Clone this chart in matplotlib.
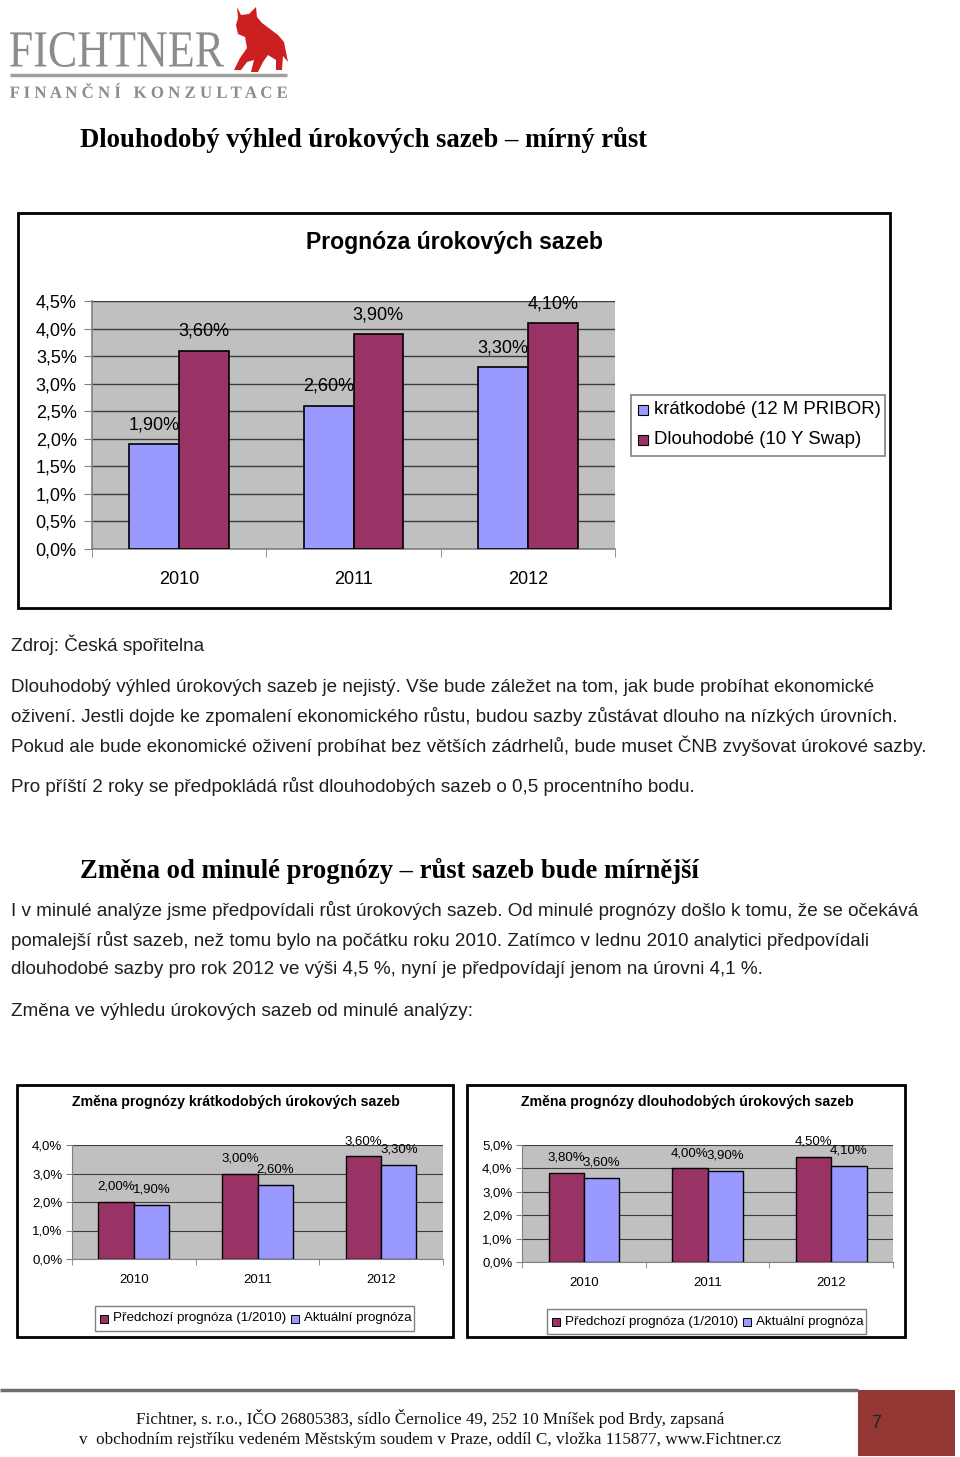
import matplotlib
matplotlib.use("Agg")
import matplotlib.pyplot as plt
import matplotlib.patches as mpatches
from matplotlib.textpath import TextPath
from matplotlib.font_manager import FontProperties
from matplotlib.transforms import Affine2D
from matplotlib.ticker import FuncFormatter, MultipleLocator, FixedLocator

# ---------------- data ----------------
years = ["2010", "2011", "2012"]
series_main = ["krátkodobé (12 M PRIBOR)", "Dlouhodobé (10 Y Swap)"]
short_rates = [1.90, 2.60, 3.30]
long_rates = [3.60, 3.90, 4.10]

series_change = ["Předchozí prognóza (1/2010)", "Aktuální prognóza"]
prev_short = [2.00, 3.00, 3.60]
curr_short = [1.90, 2.60, 3.30]
prev_long = [3.80, 4.00, 4.50]
curr_long = [3.60, 3.90, 4.10]

main_title = "Prognóza úrokových sazeb"
small_title_left = "Změna prognózy krátkodobých úrokových sazeb"
small_title_right = "Změna prognózy dlouhodobých úrokových sazeb"

heading1 = "Dlouhodobý výhled úrokových sazeb – mírný růst"
heading2 = "Změna od minulé prognózy – růst sazeb bude mírnější"
source_line = "Zdroj: Česká spořitelna"
para1 = [
    "Dlouhodobý výhled úrokových sazeb je nejistý. Vše bude záležet na tom, jak bude probíhat ekonomické",
    "oživení. Jestli dojde ke zpomalení ekonomického růstu, budou sazby zůstávat dlouho na nízkých úrovních.",
    "Pokud ale bude ekonomické oživení probíhat bez větších zádrhelů, bude muset ČNB zvyšovat úrokové sazby.",
]
para2 = "Pro příští 2 roky se předpokládá růst dlouhodobých sazeb o 0,5 procentního bodu."
para3 = [
    "I v minulé analýze jsme předpovídali růst úrokových sazeb. Od minulé prognózy došlo k tomu, že se očekává",
    "pomalejší růst sazeb, než tomu bylo na počátku roku 2010. Zatímco v lednu 2010 analytici předpovídali",
    "dlouhodobé sazby pro rok 2012 ve výši 4,5 %, nyní je předpovídají jenom na úrovni 4,1 %.",
]
para4 = "Změna ve výhledu úrokových sazeb od minulé analýzy:"
footer = [
    "Fichtner, s. r.o., IČO 26805383, sídlo Černolice 49, 252 10 Mníšek pod Brdy, zapsaná",
    "v  obchodním rejstříku vedeném Městským soudem v Praze, oddíl C, vložka 115877, www.Fichtner.cz",
]
page_no = "7"

# ---------------- styling ----------------
BLUE = "#9999FF"
RED = "#993366"
PLOT_BG = "#C0C0C0"
SANS = ["Liberation Sans", "DejaVu Sans"]
SERIF = ["Liberation Serif", "DejaVu Serif"]
plt.rcParams["font.family"] = SANS

W, H = 960, 1457
fig = plt.figure(figsize=(W / 100, H / 100), dpi=100)
fig.patch.set_facecolor("white")

# background axes in pixel coordinates
bg = fig.add_axes([0, 0, 1, 1], zorder=0)
bg.set_xlim(0, W)
bg.set_ylim(H, 0)
bg.axis("off")


def px_axes(x0, y0, x1, y1):
    ax = fig.add_axes([x0 / W, 1 - y1 / H, (x1 - x0) / W, (y1 - y0) / H], zorder=2)
    return ax


def fit_textpath(text, x0, y0, x1, y1, color, family, weight="normal"):
    """draw text as a path stretched into a pixel box (x0,y0)-(x1,y1), y downwards"""
    tp = TextPath((0, 0), text, size=10, prop=FontProperties(family=family, weight=weight))
    ext = tp.get_extents()
    sx = (x1 - x0) / ext.width
    sy = (y1 - y0) / ext.height
    tr = Affine2D().translate(-ext.x0, -ext.y0).scale(sx, -sy).translate(x0, y1)
    path = tr.transform_path(tp)
    bg.add_patch(mpatches.PathPatch(path, facecolor=color, edgecolor="none"))


pct1 = FuncFormatter(lambda v, p: f"{v:.1f}%".replace(".", ","))


def lab(v):
    return f"{v:.2f}%".replace(".", ",")


# ---------------- logo ----------------
fit_textpath("FICHTNER", 10, 32, 224, 67, "#8c8c8c", SERIF)
bg.plot([10, 287], [75, 75], color="#a0a0a0", lw=2.5, solid_capstyle="butt")
fit_textpath("F I N A N Č N Í   K O N Z U L T A C E", 10, 83, 287, 98, "#8c8c8c", SERIF, "bold")
bull = [(237, 7), (241, 15), (249, 14), (256, 7), (257, 17), (262, 23), (270, 29), (278, 35),
        (284, 42), (286, 52), (288, 62), (283, 56), (282, 70), (276, 70), (276, 60), (268, 55),
        (263, 62), (258, 72), (251, 72), (254, 60), (247, 62), (241, 70), (234, 70), (240, 58),
        (247, 48), (245, 37), (238, 34), (236, 25), (238, 18)]
bg.add_patch(mpatches.Polygon(bull, closed=True, facecolor="#cc1f1f", edgecolor="none"))

# ---------------- headings and text ----------------
bg.text(80, 140, heading1, fontsize=19.2, fontweight="bold", family=SERIF, va="center", ha="left", color="black")
bg.text(80, 871, heading2, fontsize=19.2, fontweight="bold", family=SERIF, va="center", ha="left", color="black")

BODY = 13.6
TXT = "#1e1e1e"
bg.text(11, 645, source_line, fontsize=BODY, va="center", color=TXT)
for i, line in enumerate(para1):
    bg.text(11, 687 + i * 29.5, line, fontsize=BODY, va="center", color=TXT)
bg.text(11, 787, para2, fontsize=BODY, va="center", color=TXT)
for i, line in enumerate(para3):
    bg.text(11, 911 + i * 29.5, line, fontsize=BODY, va="center", color=TXT)
bg.text(11, 1011, para4, fontsize=BODY, va="center", color=TXT)

# ---------------- main chart ----------------
bg.add_patch(mpatches.Rectangle((18, 213), 872, 395, facecolor="white", edgecolor="black", lw=2))
bg.text(455, 243, main_title, fontsize=16.6, fontweight="bold", ha="center", va="center")

ax = px_axes(92, 301, 615, 549)
w = 1 / 3.5
xs = list(range(len(years)))
ax.set_facecolor(PLOT_BG)
ax.bar([x - w / 2 for x in xs], short_rates, width=w, color=BLUE, edgecolor="black", lw=1.2, zorder=3)
ax.bar([x + w / 2 for x in xs], long_rates, width=w, color=RED, edgecolor="black", lw=1.2, zorder=3)
for x, v in zip(xs, short_rates):
    ax.annotate(lab(v), (x - w / 2, v), xytext=(0, 14), textcoords="offset points",
                ha="center", va="center", fontsize=13)
for x, v in zip(xs, long_rates):
    ax.annotate(lab(v), (x + w / 2, v), xytext=(0, 14), textcoords="offset points",
                ha="center", va="center", fontsize=13)
ax.set_xlim(-0.5, 2.5)
ax.set_ylim(0, 4.5)
ax.yaxis.set_major_locator(MultipleLocator(0.5))
ax.yaxis.set_major_formatter(pct1)
ax.grid(axis="y", color="#3c3c3c", lw=1, zorder=1)
ax.set_axisbelow(True)
ax.set_xticks(xs)
ax.set_xticklabels(years)
ax.xaxis.set_minor_locator(FixedLocator([-0.5, 0.5, 1.5, 2.5]))
ax.tick_params(axis="x", which="major", length=0, labelsize=13, pad=15.5)
ax.tick_params(axis="x", which="minor", length=6, color="#808080")
ax.tick_params(axis="y", length=6, color="#808080", labelsize=13, pad=5)
for s in ["top", "right"]:
    ax.spines[s].set_visible(False)
for s in ["left", "bottom"]:
    ax.spines[s].set_color("#808080")
    ax.spines[s].set_linewidth(1.2)

# legend of main chart
bg.add_patch(mpatches.Rectangle((631, 395), 254, 61, facecolor="white", edgecolor="#808080", lw=1.2))
for i, (name, col) in enumerate(zip(series_main, [BLUE, RED])):
    yy = 410 + i * 30
    bg.add_patch(mpatches.Rectangle((638, yy - 5), 10, 10, facecolor=col, edgecolor="black", lw=0.8))
    bg.text(654, yy, name, fontsize=13.4, va="center", ha="left")


# ---------------- small charts ----------------
def small_chart(box, plot, title, title_x, prev, curr, ymax, legend_box):
    bx0, by0, bx1, by1 = box
    bg.add_patch(mpatches.Rectangle((bx0, by0), bx1 - bx0, by1 - by0, facecolor="white",
                                    edgecolor="black", lw=2))
    bg.text(title_x, 1102, title, fontsize=10.2, fontweight="bold", ha="center", va="center")
    a = px_axes(*plot)
    a.set_facecolor(PLOT_BG)
    a.bar([x - w / 2 for x in xs], prev, width=w, color=RED, edgecolor="black", lw=1, zorder=3)
    a.bar([x + w / 2 for x in xs], curr, width=w, color=BLUE, edgecolor="black", lw=1, zorder=3)
    for x, v in zip(xs, prev):
        a.annotate(lab(v), (x - w / 2, v), xytext=(0, 11), textcoords="offset points",
                   ha="center", va="center", fontsize=9.5)
    for x, v in zip(xs, curr):
        a.annotate(lab(v), (x + w / 2, v), xytext=(0, 11), textcoords="offset points",
                   ha="center", va="center", fontsize=9.5)
    a.set_xlim(-0.5, 2.5)
    a.set_ylim(0, ymax)
    a.yaxis.set_major_locator(MultipleLocator(1))
    a.yaxis.set_major_formatter(pct1)
    a.grid(axis="y", color="#3c3c3c", lw=0.8, zorder=1)
    a.set_axisbelow(True)
    a.set_xticks(xs)
    a.set_xticklabels(years)
    a.xaxis.set_minor_locator(FixedLocator([-0.5, 0.5, 1.5, 2.5]))
    a.tick_params(axis="x", which="major", length=0, labelsize=9.5, pad=11)
    a.tick_params(axis="x", which="minor", length=4, color="#808080")
    a.tick_params(axis="y", length=4, color="#808080", labelsize=9.5, pad=3)
    for s in ["top", "right"]:
        a.spines[s].set_visible(False)
    for s in ["left", "bottom"]:
        a.spines[s].set_color("#808080")
    lx0, ly0, lx1, ly1 = legend_box
    bg.add_patch(mpatches.Rectangle((lx0, ly0), lx1 - lx0, ly1 - ly0, facecolor="white",
                                    edgecolor="#808080", lw=1))
    yy = (ly0 + ly1) / 2
    offs = [5, 196]
    for off, name, col in zip(offs, series_change, [RED, BLUE]):
        bg.add_patch(mpatches.Rectangle((lx0 + off, yy - 4), 8, 8, facecolor=col, edgecolor="black", lw=0.7))
        bg.text(lx0 + off + 13, yy, name, fontsize=9.6, va="center", ha="left")


small_chart((17, 1085, 453, 1337), (72, 1145, 443, 1259), small_title_left, 236,
            prev_short, curr_short, 4, (95, 1306, 414, 1331))
small_chart((467, 1085, 905, 1337), (522, 1145, 893, 1262), small_title_right, 687,
            prev_long, curr_long, 5, (547, 1309, 866, 1334))

# ---------------- footer ----------------
bg.plot([0, 858], [1390, 1390], color="#6e6e6e", lw=2.5, solid_capstyle="butt")
bg.add_patch(mpatches.Rectangle((858, 1390), 97, 66, facecolor="#953735", edgecolor="none"))
bg.text(876, 1423, page_no, fontsize=13, family=SANS, va="center", ha="center", color="#222222")
bg.text(430, 1419, footer[0], fontsize=12.3, family=SERIF, va="center", ha="center", color="#111111")
bg.text(430, 1440, footer[1], fontsize=12.3, family=SERIF, va="center", ha="center", color="#111111")

fig.savefig("out.png", dpi=100, facecolor="white")
